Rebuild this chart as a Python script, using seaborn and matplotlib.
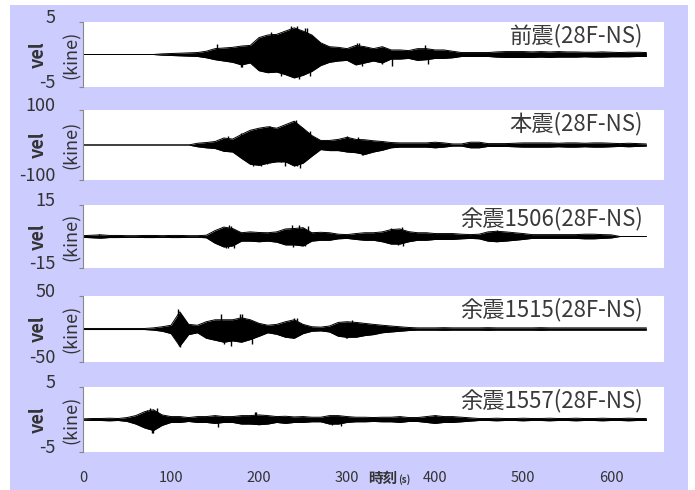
import numpy as np
import pandas as pd
import matplotlib
matplotlib.use("Agg")
import matplotlib.pyplot as plt
import matplotlib.transforms as mtransforms
import seaborn as sns
from matplotlib.patches import Rectangle

# -------------------
# Data: velocity envelopes (every 10 s, kine)
time_s = np.arange(0, 641, 10)

titles = ["前震(28F-NS)", "本震(28F-NS)", "余震1506(28F-NS)", "余震1515(28F-NS)", "余震1557(28F-NS)"]
y_limits = [5, 100, 15, 50, 5]
x_ticks = [0, 100, 200, 300, 400, 500, 600]

up_foreshock = [0, 0, 0, 0, 0, 0, 0, 0, 0,
                0.1, 0.15, 0.2, 0.25, 0.3, 0.5, 0.9, 1.0, 1.1, 1.3, 1.4,
                2.6, 3.0, 3.1, 3.6, 4.1, 3.6, 3.0, 1.8, 1.2, 1.1,
                0.9, 1.4, 1.2, 0.9, 1.2, 0.7, 0.7, 0.6, 0.9, 0.9,
                0.7, 0.7, 0.5, 0.3, 0.3, 0.3, 0.3, 0.4, 0.45, 0.45,
                0.45, 0.4, 0.45, 0.4, 0.45, 0.4, 0.4, 0.35, 0.35, 0.4,
                0.35, 0.3, 0.35, 0.35, 0.3]
lo_foreshock = [0, 0, 0, 0, 0, 0, 0, 0, 0,
                0.1, 0.15, 0.2, 0.25, 0.3, 0.5, 0.8, 1.0, 1.2, 1.6, 1.3,
                2.5, 2.8, 2.7, 3.1, 3.6, 3.2, 2.6, 1.7, 1.2, 1.0,
                0.9, 1.6, 1.3, 1.0, 1.3, 0.7, 0.7, 0.6, 0.9, 0.8,
                0.6, 0.6, 0.5, 0.3, 0.3, 0.3, 0.3, 0.4, 0.45, 0.45,
                0.45, 0.45, 0.4, 0.45, 0.4, 0.4, 0.4, 0.35, 0.4, 0.4,
                0.35, 0.35, 0.35, 0.3, 0.3]

up_main = [0, 0, 0, 0, 0, 0, 0, 0, 0, 0, 0, 0, 0,
           5, 7, 10, 20, 17, 30, 42, 48, 52, 48,
           58, 68, 48, 27, 13, 13, 16, 22, 16, 15,
           12, 10, 7, 6, 6, 6, 6, 8, 6, 3,
           3, 8, 8, 4, 4, 4, 5,
           6, 6, 6, 6, 5, 6, 6, 5, 6, 6,
           5, 4, 5, 4, 3]
lo_main = [0, 0, 0, 0, 0, 0, 0, 0, 0, 0, 0, 0, 0,
           5, 8, 10, 18, 20, 38, 55, 58, 52, 48,
           48, 60, 52, 32, 13, 16, 16, 20, 22, 27,
           20, 15, 8, 6, 6, 6, 6, 8, 6, 3,
           3, 8, 8, 4, 4, 4, 5,
           6, 6, 6, 6, 5, 6, 6, 5, 6, 6,
           5, 4, 5, 4, 3]

up_1506 = [0.4, 0.6, 0.8, 0.5, 0.5, 0.4, 0.4, 0.5, 0.5, 0.4, 0.5, 0.5, 0.4, 0.4, 0.6,
           2.8, 4.5, 3.8, 1.8, 2.2, 1.9, 1.8, 2.2, 3.6, 3.8,
           4.2, 1.8, 2.0, 1.8, 1.1, 0.9, 1.4, 1.8, 1.8, 2.2,
           3.3, 3.6, 2.3, 1.8, 1.8, 1.4, 1.4, 1.4, 1.1, 0.9,
           1.1, 2.2, 2.5, 2.2, 1.8, 1.4, 0.9, 0.9, 0.9, 0.9,
           0.9, 0.9, 1.1, 1.1, 0.9, 0.8, 0, 0, 0, 0]
lo_1506 = [0.4, 0.6, 0.8, 0.5, 0.5, 0.4, 0.4, 0.5, 0.5, 0.4, 0.5, 0.5, 0.4, 0.4, 0.6,
           3.2, 5.0, 4.5, 2.2, 2.2, 2.5, 2.2, 2.7, 4.0, 4.0,
           4.5, 2.2, 1.8, 1.8, 1.1, 0.9, 1.4, 1.8, 1.8, 2.5,
           3.6, 3.6, 2.5, 1.8, 1.8, 1.4, 1.4, 1.4, 1.1, 0.9,
           1.1, 2.2, 2.5, 2.2, 1.8, 1.4, 0.9, 0.9, 0.9, 0.9,
           0.9, 0.9, 1.1, 1.1, 0.9, 0.7, 0, 0, 0, 0]

up_1515 = [0.8, 0.8, 0.8, 0.8, 0.8, 0.8, 0.8, 0.8,
           1.7, 3.4, 5.7, 26, 7, 5.7, 11, 14, 14, 14,
           17, 14, 8.5, 5.7, 7, 11, 14, 7, 3.4, 2.8,
           4.5, 10, 11, 10, 8.5, 7, 5.7, 4.5, 3.4, 2.3,
           1.7, 1.7, 1.7, 2.0, 1.7, 1.7, 1.7, 1.7, 2.0, 1.7,
           1.7, 1.7, 1.7, 1.7, 2.0, 1.7, 1.7, 1.7, 1.7, 1.7,
           1.7, 1.7, 1.7, 1.7, 1.7, 1.7, 1.7]
lo_1515 = [0.8, 0.8, 0.8, 0.8, 0.8, 0.8, 0.8, 0.8,
           1.7, 3.4, 7, 26, 8.5, 5.7, 14, 17, 20, 18,
           20, 16, 11, 5.7, 8, 12.5, 14, 7, 3.4, 2.8,
           4.5, 11, 12.5, 12.5, 10, 8.5, 5.7, 4.5, 3.4, 2.3,
           1.7, 1.7, 1.7, 2.0, 1.7, 1.7, 1.7, 1.7, 2.0, 1.7,
           1.7, 1.7, 1.7, 1.7, 2.0, 1.7, 1.7, 1.7, 1.7, 1.7,
           1.7, 1.7, 1.7, 1.7, 1.7, 1.7, 1.7]

up_1557 = [0.1, 0.15, 0.15, 0.2, 0.15, 0.3, 0.6, 1.2, 1.5, 0.7,
           0.45, 0.45, 0.3, 0.45, 0.45, 0.6, 0.45, 0.45, 0.6, 0.6,
           0.7, 0.6, 0.45, 0.5, 0.4, 0.45, 0.35, 0.35, 0.6, 0.6,
           0.45, 0.35, 0.35, 0.3, 0.35, 0.35, 0.45, 0.3, 0.3, 0.45,
           0.6, 0.45, 0.45, 0.35, 0.25,
           0.15, 0.15, 0.2, 0.15, 0.15, 0.2, 0.15, 0.15, 0.2, 0.15,
           0.15, 0.2, 0.15, 0.15, 0.2, 0.15, 0.15, 0.2, 0.15, 0.15]
lo_1557 = [0.1, 0.15, 0.15, 0.2, 0.15, 0.3, 0.7, 1.3, 1.7, 0.9,
           0.45, 0.45, 0.3, 0.45, 0.45, 0.6, 0.45, 0.45, 0.7, 0.7,
           0.8, 0.7, 0.45, 0.6, 0.45, 0.45, 0.35, 0.35, 0.7, 0.7,
           0.45, 0.35, 0.35, 0.3, 0.35, 0.35, 0.45, 0.3, 0.3, 0.45,
           0.6, 0.45, 0.45, 0.35, 0.25,
           0.15, 0.15, 0.2, 0.15, 0.15, 0.2, 0.15, 0.15, 0.2, 0.15,
           0.15, 0.2, 0.15, 0.15, 0.2, 0.15, 0.15, 0.2, 0.15, 0.15]

# single prominent spikes (time s, velocity kine)
spike_t = [[152, 179, 181, 209, 213, 215, 225, 230, 236, 243, 245, 252, 254, 258,
            311, 314, 317, 340, 351, 388, 392],
           [165, 180, 185, 193, 202, 205, 209, 211, 212, 225, 230, 241, 242, 243,
            246, 258, 300, 312, 317, 318],
           [18, 162, 165, 166, 168, 172, 237, 239, 245, 252, 256, 350, 358, 362, 364, 470],
           [108, 109, 110, 157, 160, 168, 178, 181, 192, 240, 243, 299, 300, 306],
           [73, 76, 78, 80, 84, 153, 195, 196, 283, 293, 400]]
spike_v = [[1.6, -2.0, -2.0, -2.3, 3.5, 3.2, -3.3, 3.5, 4.4, 4.35, -3.8, 4.0, 4.0, -3.3,
            1.8, 1.7, -1.7, -1.5, -1.7, 1.45, -1.45],
           [25, 35, 33, -60, -60, -55, -55, 55, 55, -50, -60, 65, 72, -60,
            -65, 40, 25, 22, -28, -28],
           [1.0, -5.5, -5.4, 5.4, 5.0, -5.4, 5.4, -5.2, 5.5, -4.5, 5.2, 4.0, -4.0, 4.5, -4.5, 3.0],
           [30, -26, -28, 22, -22, -26, 22, 22, -23, 16, 16, -14, -14, 14],
           [1.45, 1.8, -2.0, -2.0, 1.7, -1.2, 1.2, 1.2, -0.8, -1.0, 0.7]]

ups = [up_foreshock, up_main, up_1506, up_1515, up_1557]
los = [lo_foreshock, lo_main, lo_1506, lo_1515, lo_1557]

# -------------------
# Style
sns.set_theme(style="white")
plt.rcParams['font.family'] = ['Noto Sans CJK JP', 'DejaVu Sans']
text_col = "#333333"

fig = plt.figure(figsize=(6.95, 4.9), dpi=100)
fig.patch.set_facecolor("white")
fig.add_artist(Rectangle((10 / 695, 0), 678 / 695, 485 / 490, transform=fig.transFigure,
                         facecolor="#ccccff", edgecolor="none", zorder=0))

# panel boxes in pixels (top, bottom)
panel_px = [(22, 87), (110, 180), (205, 268), (296, 362), (387, 452)]
left, right = 83, 664
lift = mtransforms.ScaledTranslation(0, 4 / 72, fig.dpi_scale_trans)

for i, (top, bottom) in enumerate(panel_px):
    ax = fig.add_axes([left / 695, 1 - bottom / 490, (right - left) / 695, (bottom - top) / 490])
    ax.set_facecolor("white")

    df = pd.DataFrame({"t": time_s, "up": ups[i], "lo": -np.array(los[i])})
    ax.fill_between(df["t"], df["up"], df["lo"], color="black", lw=0)
    sns.lineplot(data=df, x="t", y="up", ax=ax, color="black", lw=0.7)
    sns.lineplot(data=df, x="t", y="lo", ax=ax, color="black", lw=0.7)
    ax.vlines(spike_t[i], 0, spike_v[i], color="black", lw=1.0)

    lim = y_limits[i]
    ax.set_xlim(0, 660)
    ax.set_ylim(-lim, lim)
    ax.set_yticks([-lim, lim])
    ax.set_yticklabels([str(-lim), str(lim)])
    ax.set_xlabel("")
    ax.set_ylabel("")

    for s in ["top", "right", "bottom"]:
        ax.spines[s].set_visible(False)
    ax.spines["left"].set_color("#888888")
    ax.spines["left"].set_linewidth(0.8)
    ax.tick_params(axis="y", left=True, length=3, width=0.8, color="#888888",
                   direction="out", pad=17, labelsize=13, labelcolor=text_col)
    for lab in ax.get_yticklabels():
        lab.set_transform(lab.get_transform() + lift)

    if i == len(panel_px) - 1:
        ax.set_xticks(x_ticks)
        ax.tick_params(axis="x", bottom=False, pad=8, labelsize=10.5, labelcolor=text_col)
    else:
        ax.set_xticks([])

    ax.text(0.964, 0.98, titles[i], transform=ax.transAxes, ha="right", va="top",
            fontsize=16, color="#3a3a3a")

    yc = 1 - (top + bottom) / 2 / 490
    fig.text(38 / 695, yc, "vel", rotation=90, ha="center", va="center",
             fontsize=13, fontweight="bold", color=text_col)
    fig.text(72 / 695, yc, "(kine)", rotation=90, ha="center", va="center",
             fontsize=13, color=text_col)

# x label
fig.text(397 / 695, 1 - 478 / 490, "時刻", ha="right", va="center",
         fontsize=10.5, fontweight="bold", color=text_col)
fig.text(398 / 695, 1 - 480 / 490, "(s)", ha="left", va="center",
         fontsize=7, fontweight="bold", color=text_col)

fig.savefig("out.png", dpi=100, facecolor=fig.get_facecolor())
